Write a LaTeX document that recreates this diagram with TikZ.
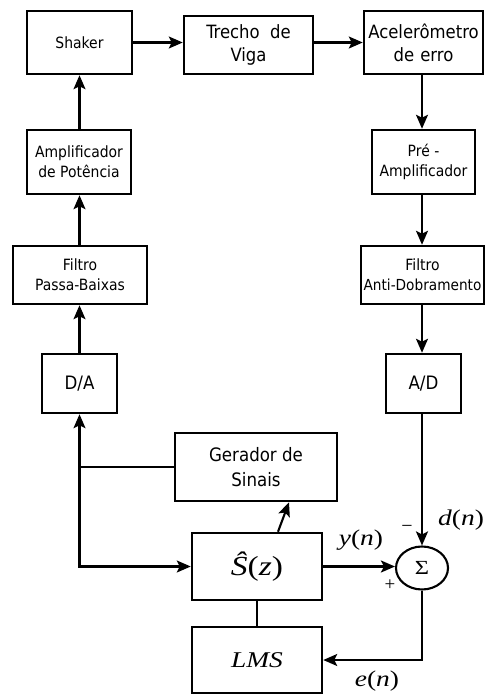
\documentclass[tikz,border=0pt]{standalone}
\usepackage{fontspec}
\setmainfont{DejaVu Sans Condensed}
\newfontfamily\tms{Liberation Serif}
\usetikzlibrary{arrows.meta,calc,shapes.geometric}

% font sizes used in the blocks
\newcommand\fsmall{\fontsize{15.5}{20}\selectfont}
\newcommand\fbig{\fontsize{18.3}{23}\selectfont}
\newcommand\fconv{\fontsize{18.5}{22}\selectfont}
\newcommand\fmath{\tms\fontsize{22.5}{24}\selectfont}
\newcommand\wide[1]{\scalebox{1.22}[1]{#1}}

\begin{document}
\begin{tikzpicture}[x=1pt,y=-1pt,
  blk/.style={draw, line width=2.5pt, inner sep=0pt, align=center},
  tip/.tip={Stealth[length=14pt,width=12pt,inset=3pt]},
  arr/.style={line width=2.1pt, -tip},
  ln/.style={line width=2.1pt},
  lbl/.style={inner sep=0pt}]
\useasboundingbox (0,0) rectangle (485,696);

% upper chain
\node[blk, minimum width=105pt, minimum height=63pt, font=\fsmall] (shaker) at (79.5,42.5) {Shaker};
\node[blk, minimum width=129pt, minimum height=58pt, font=\fbig] (trecho) at (248.5,45) {Trecho\ \ de\\Viga};
\node[blk, minimum width=119pt, minimum height=63pt, text width=117pt, inner xsep=1pt, font=\fbig] (acel) at (423.5,42.5) {Acelerômetro\\de erro};

% left column
\node[blk, minimum width=104pt, minimum height=64pt, font=\fsmall] (amp) at (79,162) {Amplificador\\de Potência};
\node[blk, minimum width=134pt, minimum height=58pt, font=\fsmall] (fpb) at (80,275) {Filtro\\Passa-Baixas};
\node[blk, minimum width=75pt, minimum height=59pt, font=\fconv] (da) at (79.5,383.5) {D/A};

% right column
\node[blk, minimum width=123pt, minimum height=58pt, text width=119pt, inner xsep=2pt, font=\fsmall] (fad) at (422.5,275) {Filtro\\{\fontsize{15.2}{20}\selectfont Anti-Dobramento}};
\node[blk, minimum width=103pt, minimum height=64pt, font=\fsmall] (pre) at (423.5,162) {Pré -\\Amplificador};
\node[blk, minimum width=75pt, minimum height=59pt, font=\fconv] (ad) at (423.5,383.5) {A/D};

% adaptive part
\node[blk, minimum width=162pt, minimum height=68pt, font=\fontsize{18.5}{25}\selectfont] (gen) at (256,467) {Gerador de\\Sinais};
\node[blk, minimum width=130pt, minimum height=67pt] (s) at (257,566.5) {\tms\fontsize{27.5}{27}\selectfont\wide{\textit{\^S}(\textit{z})}};
\node[blk, minimum width=130pt, minimum height=66pt] (lms) at (257,660) {\fmath\wide{\textit{LMS}}};
\node[draw, line width=2.1pt, ellipse, minimum width=52pt, minimum height=43pt, inner sep=0pt] (sig) at (422,568) {\tms\fontsize{20}{20}\selectfont\wide{Σ}};

% signal labels
\node[lbl] (yn) at (361,540) {\fmath\wide{\textit{y}(\textit{n})}};
\node[lbl] (dn) at (461,520) {\fmath\wide{\textit{d}(\textit{n})}};
\node[lbl] (en) at (377,681) {\fmath\wide{\textit{e}(\textit{n})}};
\node[lbl] (minus) at (407,529) {\tms\fontsize{20}{20}\selectfont −};
\node[lbl] (plus) at (390,585) {\tms\fontsize{19}{19}\selectfont +};

% connectors: forward path
\draw[arr] (shaker.east) -- (trecho.west |- shaker.east);
\draw[arr] (trecho.east |- shaker.east) -- (acel.west |- shaker.east);
\draw[arr] (acel.south -| sig.north) -- (sig.north |- pre.north);
\draw[arr] (sig.north |- pre.south) -- (sig.north |- fad.north);
\draw[arr] (sig.north |- fad.south) -- (sig.north |- ad.north);
\draw[arr] (sig.north |- ad.south) -- (sig.north);

% left column upwards
\draw[arr] (amp.north -| da.north) -- (da.north |- shaker.south);
\draw[arr] (fpb.north -| da.north) -- (da.north |- amp.south);
\draw[arr] (da.north) -- (da.north |- fpb.south);

% reference signal distribution
\draw[ln, tip-tip] (da.south) |- (s.west);
\draw[ln] (gen.west) -- (gen.west -| da.south);
\draw[arr] ($(s.north)+(21,0)$) -- ($(gen.south)+(33,0)$);

% error path and adaptation
\draw[arr] (s.east) -- (sig.west |- s.east);
\draw[arr] (sig.south) |- (lms.east);
\draw[ln] (s.south) -- (lms.north);
\end{tikzpicture}
\end{document}
